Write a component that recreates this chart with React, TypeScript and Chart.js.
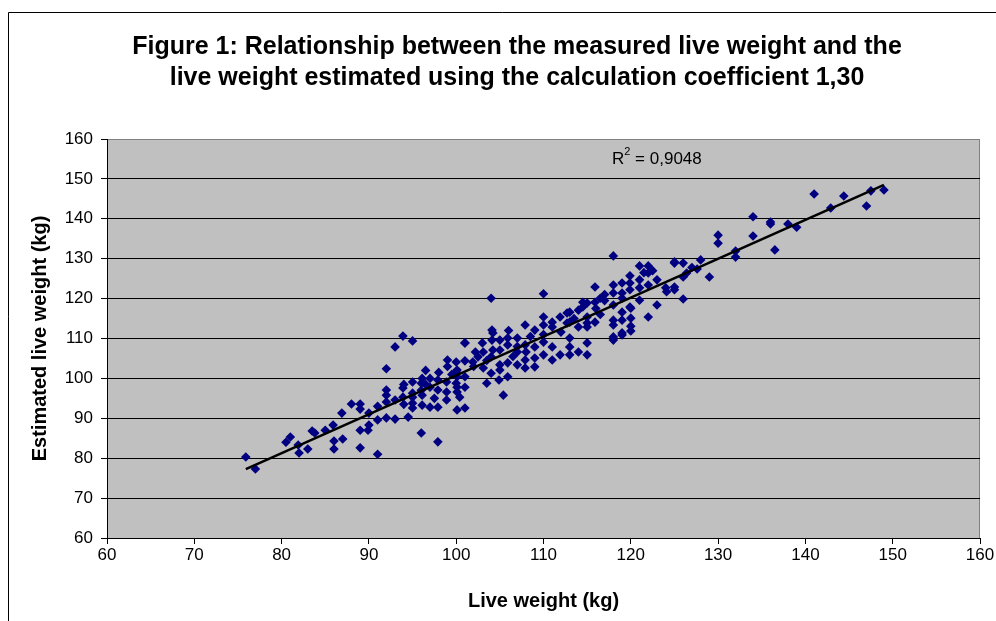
import React, { useEffect, useRef } from 'react';
import { Chart, registerables } from 'chart.js';

Chart.register(...registerables);

// Measured live weight (kg) — x values
const liveWeight: number[] = [
  75.9, 77, 80.5, 81, 81.9, 82, 83, 83.5, 83.8, 85, 85.9, 86, 86, 87, 86.9, 88, 89, 89, 89, 89, 89.9, 90, 90, 91, 91, 92, 93, 94.5, 96, 97.9,
  93.9, 93, 95, 92, 101, 99, 100, 101, 96.5, 96.1, 97, 95, 93.9, 92, 92, 92, 93, 93.9, 95, 95, 95, 96.1, 96.1, 97, 97, 97.9, 97.9, 97.9, 98.9, 98.9, 98.9,
  100.1, 100.1, 100.1, 100.1, 100.1, 101, 101, 101, 100.4, 100, 100, 96, 95, 91, 94, 96, 97.5, 99.5, 98, 99, 94, 96.5,
  104, 110, 101, 103, 104.1, 104.2, 104.1, 102.2, 102.5, 101.9, 103.1, 103.1, 104.2, 105, 105, 105, 104, 103.5, 104.9, 105.9, 105.4, 105.9, 105.9, 105.9,
  107, 107, 107.9, 107.9, 107.9, 107.9, 109, 109, 109, 110, 110, 110, 110, 111, 111, 111, 111.9, 111.9, 112.7, 112.7,
  105, 107, 108, 109, 110, 111, 112, 104, 106.5, 108.5, 102, 103.5, 106, 107,
  118, 121, 122, 125, 119.9, 122, 123, 118, 119, 119.9, 121, 122, 121, 118, 119, 119.9, 119, 115.9, 115.9, 116.5, 114.5, 114.5, 113, 113, 114, 115, 115.9, 115, 114,
  118, 119, 120, 120, 119, 120, 120, 118, 118, 118, 118, 119, 121, 123, 122, 124.1, 125, 113, 113, 115, 114, 115, 113, 115, 115, 119.9, 119,
  116.5, 117, 121.5, 122.5, 117, 113.5, 116,
  141, 144.4, 147.5, 149, 147, 142.9, 134, 136, 136, 138, 139, 134, 136.5, 130, 130, 132, 132, 128, 127.6, 126, 125, 126, 126.4, 129, 125, 124, 126, 127,
];

// Live weight estimated with coefficient 1,30 (kg) — y values
const estimatedWeight: number[] = [
  80.3, 77.3, 84, 85.3, 83.3, 81.3, 82.3, 86.8, 86.3, 87, 88.3, 84.3, 82.3, 84.8, 91.3, 93.6, 93.6, 92.3, 87, 82.6, 87, 91.3, 88.3, 89.6, 81, 90.1, 89.8, 90.3, 86.3, 84.1,
  110.6, 107.9, 109.4, 102.4, 108.9, 104.6, 104.1, 104.4, 102, 100, 100, 99.1, 97.6, 97.1, 95.8, 94.1, 94.6, 95.3, 96.3, 93.8, 92.6, 95.8, 93.3, 97.8, 92.8, 92.8, 97.1, 99.6, 99.1, 96.6, 94.6,
  102.1, 100.4, 97.8, 96.6, 92.1, 100.4, 97.8, 92.6, 95.3, 101.6, 98.8, 98.8, 95.3, 93, 93.5, 97, 95, 101, 101.5, 103, 98.5, 98.5,
  120.1, 121.2, 108.9, 108.9, 112.1, 111.4, 109.6, 106.6, 105.4, 104.1, 106.6, 102.6, 107.1, 107.1, 103.4, 102.1, 101.3, 98.8, 99.6, 100.4, 95.8, 110.1, 108.4, 103.9,
  110.1, 103.4, 113.4, 108.4, 104.6, 102.6, 112.1, 107.9, 102.9, 115.4, 113.4, 109.1, 105.9, 114.1, 107.9, 104.6, 115.4, 105.9, 116.4, 113.9,
  109.6, 106.6, 106.6, 105.1, 111, 112.9, 111.6, 105.4, 105.5, 110.5, 103, 104.5, 112, 108,
  130.7, 128.2, 128.2, 128.9, 125.7, 126.4, 124.7, 123.4, 123.9, 123.9, 124.7, 123.4, 122.7, 121.4, 121.4, 122.2, 120.1, 122.9, 119.1, 120.1, 119.1, 117.9, 116.6, 114.1, 117.1, 113.9, 114.1, 112.9, 112.9,
  118.4, 116.6, 117.6, 115.1, 114.6, 113.1, 111.9, 114.6, 113.4, 110.4, 109.6, 110.9, 119.6, 118.4, 115.4, 121.7, 122.2, 110.1, 107.9, 108.9, 106.6, 105.9, 105.9, 118.9, 115.4, 117.9, 111.4,
  116, 119.5, 126.5, 127, 121, 115, 117.5,
  146.2, 145.7, 147, 147.2, 143.2, 142.7, 140.5, 139.2, 138.7, 138.7, 137.9, 135.7, 132.2, 135.9, 133.9, 131.9, 130.4, 129.7, 127.4, 128.9, 129.2, 125.4, 126.4, 125.4, 122.9, 122.7, 119.9, 127.8,
];

const axisMin = 60;
const axisMax = 160;
const axisStep = 10;

const titleLines: string[] = [
  'Figure 1: Relationship between the measured live weight and the',
  'live weight estimated using the calculation coefficient 1,30',
];
const xAxisTitle = 'Live weight (kg)';
const yAxisTitle = 'Estimated live weight (kg)';
const rSquaredValue = '0,9048';

const FONT = "'Liberation Sans', Arial, Helvetica, sans-serif";

function linearFit(xs: number[], ys: number[]) {
  const n = Math.min(xs.length, ys.length);
  let sx = 0, sy = 0, sxx = 0, sxy = 0;
  for (let i = 0; i < n; i++) {
    sx += xs[i]; sy += ys[i]; sxx += xs[i] * xs[i]; sxy += xs[i] * ys[i];
  }
  const slope = (n * sxy - sx * sy) / (n * sxx - sx * sx);
  const intercept = (sy - slope * sx) / n;
  return { slope, intercept };
}

const decorPlugin = {
  id: 'decor',
  beforeDraw(chart: any) {
    const { ctx, chartArea } = chart;
    ctx.save();
    ctx.fillStyle = '#ffffff';
    ctx.fillRect(0, 0, chart.width, chart.height);
    // outer chart border (left & top)
    ctx.strokeStyle = '#000000';
    ctx.lineWidth = 1;
    ctx.beginPath();
    ctx.moveTo(8.5, chart.height);
    ctx.lineTo(8.5, 12.5);
    ctx.lineTo(chart.width, 12.5);
    ctx.stroke();
    // plot area
    ctx.fillStyle = '#c0c0c0';
    ctx.fillRect(chartArea.left, chartArea.top, chartArea.right - chartArea.left, chartArea.bottom - chartArea.top);
    ctx.strokeStyle = '#808080';
    ctx.beginPath();
    ctx.moveTo(chartArea.left, chartArea.top + 0.5);
    ctx.lineTo(chartArea.right - 0.5, chartArea.top + 0.5);
    ctx.lineTo(chartArea.right - 0.5, chartArea.bottom);
    ctx.stroke();
    // title
    ctx.fillStyle = '#000000';
    ctx.font = `bold 25px ${FONT}`;
    ctx.textAlign = 'center';
    ctx.textBaseline = 'middle';
    ctx.fillText(titleLines[0], 517, 47);
    ctx.fillText(titleLines[1], 517, 78);
    ctx.restore();
  },
  afterDatasetsDraw(chart: any) {
    const { ctx } = chart;
    ctx.save();
    ctx.fillStyle = '#000000';
    ctx.textBaseline = 'middle';
    ctx.textAlign = 'left';
    let x = 612;
    const y = 159;
    ctx.font = `17px ${FONT}`;
    ctx.fillText('R', x, y);
    x += ctx.measureText('R').width;
    ctx.font = `11px ${FONT}`;
    ctx.fillText('2', x, y - 7);
    x += ctx.measureText('2').width;
    ctx.font = `17px ${FONT}`;
    ctx.fillText(' = ' + rSquaredValue, x, y);
    ctx.restore();
  },
};

export default function App() {
  const canvasRef = useRef<HTMLCanvasElement | null>(null);

  useEffect(() => {
    const canvas = canvasRef.current;
    if (!canvas) return;
    const points = liveWeight.map((x, i) => ({ x, y: estimatedWeight[i] }));
    const { slope, intercept } = linearFit(liveWeight, estimatedWeight);
    const xMin = Math.min(...liveWeight);
    const xMax = Math.max(...liveWeight);
    const trend = [
      { x: xMin, y: slope * xMin + intercept },
      { x: xMax, y: slope * xMax + intercept },
    ];

    const chart = new Chart(canvas, {
      type: 'scatter',
      data: {
        datasets: [
          {
            type: 'line',
            label: 'Linear trend',
            data: trend,
            borderColor: '#000000',
            borderWidth: 2.5,
            pointRadius: 0,
            fill: false,
          } as any,
          {
            label: 'Estimated live weight',
            data: points,
            pointStyle: 'rectRot',
            pointRadius: 4.8,
            pointBackgroundColor: '#000080',
            pointBorderColor: '#000080',
            pointBorderWidth: 0,
            showLine: false,
          },
        ],
      },
      options: {
        responsive: false,
        animation: false,
        events: [],
        layout: { padding: { left: 0, right: 16, top: 139, bottom: 0 } },
        plugins: {
          legend: { display: false },
          tooltip: { enabled: false },
          title: { display: false },
        },
        scales: {
          x: {
            type: 'linear',
            min: axisMin,
            max: axisMax,
            afterFit: (scale: any) => { scale.height = 83; },
            ticks: {
              stepSize: axisStep,
              color: '#000000',
              font: { family: FONT, size: 17 },
              padding: 1,
              maxRotation: 0,
            },
            grid: {
              drawOnChartArea: false,
              drawTicks: true,
              tickLength: 6,
              tickColor: '#000000',
              color: '#000000',
            },
            border: { display: true, color: '#000000', width: 1 },
            title: {
              display: true,
              text: xAxisTitle,
              color: '#000000',
              font: { family: FONT, size: 20, weight: 'bold' },
              padding: { top: 0, bottom: 8 },
            },
          },
          y: {
            type: 'linear',
            min: axisMin,
            max: axisMax,
            afterFit: (scale: any) => { scale.width = 107; },
            ticks: {
              stepSize: axisStep,
              color: '#000000',
              font: { family: FONT, size: 17 },
              padding: 8,
            },
            grid: {
              drawTicks: true,
              tickLength: 6,
              tickColor: '#000000',
              color: (c: any) => (c.tick && c.tick.value === axisMax ? '#808080' : '#000000'),
              lineWidth: 1,
            },
            border: { display: true, color: '#000000', width: 1 },
            title: {
              display: true,
              text: yAxisTitle,
              color: '#000000',
              font: { family: FONT, size: 20, weight: 'bold' },
              padding: { top: 28, bottom: 0 },
            },
          },
        },
      },
      plugins: [decorPlugin],
    });

    return () => chart.destroy();
  }, []);

  return (
    <div style={{ position: 'fixed', left: 0, top: 0, width: 996, height: 621, background: '#ffffff' }}>
      <canvas ref={canvasRef} width={996} height={621} style={{ display: 'block', width: 996, height: 621 }} />
    </div>
  );
}
